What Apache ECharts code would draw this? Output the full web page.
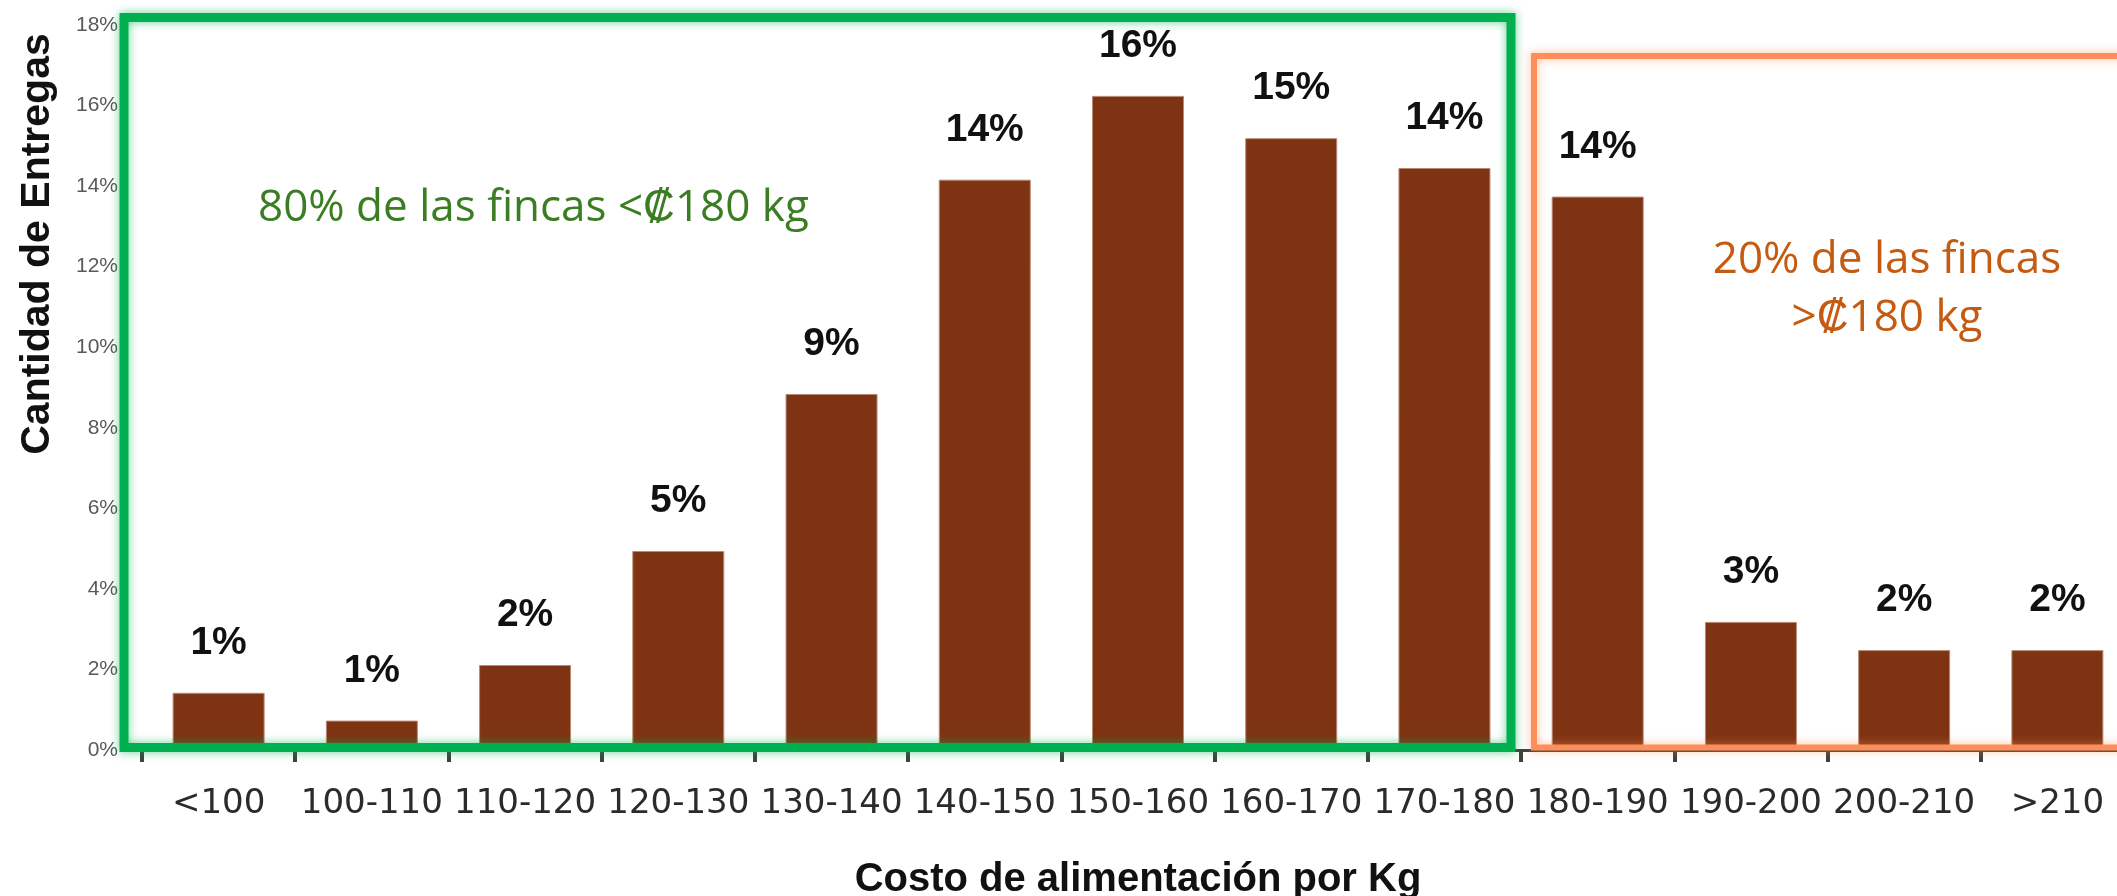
<!DOCTYPE html>
<html>
<head>
<meta charset="utf-8">
<script src="https://cdn.jsdelivr.net/npm/echarts@6/dist/echarts.min.js"></script>
<style>
  html, body { margin: 0; padding: 0; background: #fff; }
  #chart { width: 2117px; height: 896px; }
</style>
</head>
<body>
<div id="chart"></div>
<script>
// categories (cost ranges) and share of deliveries, in %
var categories = ['<100', '100-110', '110-120', '120-130', '130-140', '140-150', '150-160',
  '160-170', '170-180', '180-190', '190-200', '200-210', '>210'];
var shares = [1.42, 0.73, 2.11, 4.94, 8.84, 14.16, 16.24, 15.19, 14.45, 13.74, 3.18, 2.48, 2.48];

var yTicks = { min: 0, max: 18, interval: 2 };
var yTitle = 'Cantidad de Entregas';
var xTitle = 'Costo de alimentación por Kg';
var noteLow = '80% de las fincas <₡180 kg';
var noteHigh = '20% de las fincas\n>₡180 kg';

var chart = echarts.init(document.getElementById('chart'));

var option = {
  backgroundColor: '#ffffff',
  animation: false,
  // plot runs a little past the right edge, as in the cropped original
  grid: { left: 142, right: -17, top: 25, bottom: 146, outerBoundsMode: 'none', containLabel: false },
  xAxis: {
    type: 'category',
    data: categories,
    name: xTitle,
    nameLocation: 'middle',
    nameGap: 110,
    nameTextStyle: {
      fontFamily: '"Liberation Sans", Arial, sans-serif',
      fontWeight: 'bold',
      fontSize: 40,
      color: '#111111'
    },
    axisLine: { show: true, lineStyle: { color: '#404040', width: 3 } },
    axisTick: { show: true, length: 12, lineStyle: { color: '#404040', width: 4 } },
    axisLabel: {
      interval: 0,
      margin: 37,
      fontFamily: '"DejaVu Sans", sans-serif',
      fontSize: 34,
      color: '#2b2b2b'
    }
  },
  yAxis: {
    type: 'value',
    min: yTicks.min,
    max: yTicks.max,
    interval: yTicks.interval,
    axisLine: { show: false },
    axisTick: { show: false },
    splitLine: { show: false },
    axisLabel: {
      formatter: '{value}%',
      margin: 24,
      fontFamily: '"Liberation Sans", Arial, sans-serif',
      fontSize: 21,
      color: '#595959'
    }
  },
  series: [{
    type: 'bar',
    data: shares,
    barWidth: 92,
    itemStyle: { color: '#7e3413', borderColor: '#b98a76', borderWidth: 1 },
    label: {
      show: true,
      position: 'top',
      distance: 30,
      formatter: function (p) { return Math.round(p.value) + '%'; },
      fontFamily: '"Liberation Sans", Arial, sans-serif',
      fontWeight: 'bold',
      fontSize: 39,
      color: '#111111'
    },
    z: 2
  }],
  graphic: [
    {
      type: 'rect', z: 100,
      shape: { x: 124, y: 17.5, width: 1387, height: 730 },
      style: { fill: 'none', stroke: '#00b050', lineWidth: 9, shadowBlur: 10, shadowColor: 'rgba(0,176,80,0.6)' }
    },
    {
      type: 'rect', z: 100,
      shape: { x: 1534, y: 56, width: 700, height: 691.5 },
      style: { fill: 'none', stroke: '#ff8f5a', lineWidth: 6, shadowBlur: 10, shadowColor: 'rgba(255,140,85,0.6)' }
    },
    {
      type: 'text', z: 100,
      x: 38, y: 244, rotation: Math.PI / 2,
      style: {
        text: yTitle, align: 'center', verticalAlign: 'middle',
        fontFamily: '"Liberation Sans", Arial, sans-serif', fontWeight: 'bold', fontSize: 41, fill: '#111111'
      }
    },
    {
      type: 'text', z: 100,
      x: 258, y: 208,
      style: {
        text: noteLow, align: 'left', verticalAlign: 'middle',
        fontFamily: '"Open Sans", sans-serif', fontSize: 44, fill: '#3a7d22'
      }
    },
    {
      type: 'text', z: 100,
      x: 1887, y: 289,
      style: {
        text: noteHigh, align: 'center', verticalAlign: 'middle', lineHeight: 58,
        fontFamily: '"Open Sans", sans-serif', fontSize: 44, fill: '#c55a11'
      }
    }
  ]
};

chart.setOption(option);
</script>
</body>
</html>
